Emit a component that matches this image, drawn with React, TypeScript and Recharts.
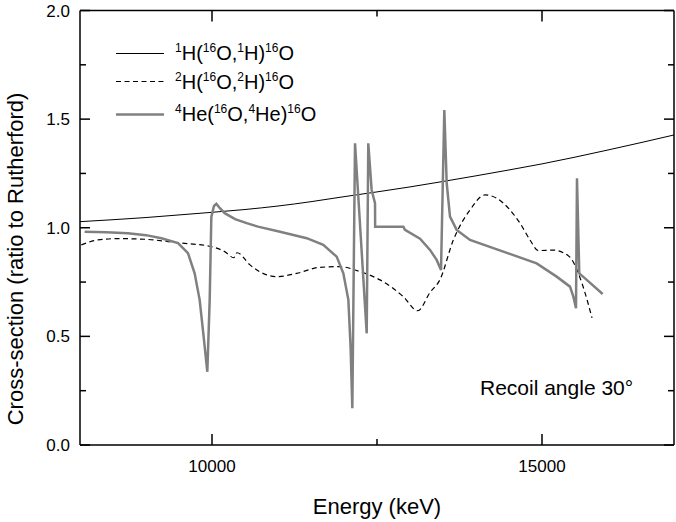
import { LineChart, Line, XAxis, YAxis, Legend, Label } from "recharts"

// 1H(16O,1H)16O  - smooth Rutherford-like curve
const hEnergy = [8000, 8500, 9000, 9500, 10000, 10500, 11000, 11500, 12000, 12500, 13000, 13500, 14000, 14500, 15000, 15500, 16000, 16500, 17000]
const hRatio = [1.028, 1.037, 1.047, 1.059, 1.071, 1.084, 1.1, 1.12, 1.143, 1.165, 1.188, 1.213, 1.239, 1.266, 1.294, 1.325, 1.358, 1.392, 1.427]

// 2H(16O,2H)16O
const dEnergy = [8020, 8273, 8576, 8980, 9485, 9990, 10192, 10330, 10380, 10576, 10828, 10980, 11283, 11636, 11939, 12242, 12545, 12899, 13117, 13303, 13455, 13657, 13909, 14136, 14313, 14515, 14667, 14818, 14944, 15172, 15323, 15455, 15606, 15758]
const dRatio = [0.921, 0.944, 0.95, 0.947, 0.931, 0.913, 0.89, 0.862, 0.885, 0.829, 0.783, 0.775, 0.79, 0.818, 0.821, 0.798, 0.76, 0.683, 0.618, 0.702, 0.762, 0.944, 1.082, 1.151, 1.136, 1.082, 1.021, 0.944, 0.895, 0.897, 0.885, 0.852, 0.744, 0.585]

// 4He(16O,4He)16O
const heEnergy = [8070, 8400, 8727, 9000, 9233, 9485, 9636, 9737, 9813, 9879, 9929, 9965, 9990, 10030, 10066, 10120, 10192, 10350, 10525, 10697, 11030, 11435, 11686, 11889, 11990, 12066, 12100, 12126, 12167, 12344, 12368, 12419, 12470, 12472, 12899, 12924, 13152, 13303, 13404, 13470, 13520, 13556, 13606, 13707, 13909, 14414, 14919, 15222, 15424, 15475, 15515, 15530, 15565, 15652, 15919]
const heRatio = [0.982, 0.979, 0.975, 0.966, 0.952, 0.929, 0.883, 0.79, 0.668, 0.483, 0.337, 0.668, 1.05, 1.1, 1.11, 1.09, 1.067, 1.04, 1.021, 1.005, 0.982, 0.952, 0.921, 0.867, 0.79, 0.668, 0.45, 0.169, 1.389, 0.514, 1.389, 1.174, 1.113, 1.005, 1.005, 0.99, 0.95, 0.898, 0.852, 0.806, 1.542, 1.205, 1.051, 0.99, 0.944, 0.89, 0.836, 0.775, 0.729, 0.683, 0.629, 1.228, 0.79, 0.767, 0.695]

const xTicks = [10000, 12500, 15000]
const yTicks = [0, 0.25, 0.5, 0.75, 1, 1.25, 1.5, 1.75, 2]

const seriesNames = [
  ["1", "H(", "16", "O,", "1", "H)", "16", "O"],
  ["2", "H(", "16", "O,", "2", "H)", "16", "O"],
  ["4", "He(", "16", "O,", "4", "He)", "16", "O"],
]

const FONT = '"Liberation Sans", Arial, sans-serif'
const GREY = "#808080"

// plot frame (px), set by the margins and axis sizes below
const W = 676
const H = 522
const TOP = 10.5
const BOTTOM = 445
const LEFT = 80
const RIGHT = 674

const toPoints = (e: number[], r: number[]) => e.map((v, i) => ({ e: v, r: r[i] }))
const hData = toPoints(hEnergy, hRatio)
const dData = toPoints(dEnergy, dRatio)
const heData = toPoints(heEnergy, heRatio)

const isMajorX = (v: number) => v % 5000 === 0
const isMajorY = (v: number) => Math.abs(v * 2 - Math.round(v * 2)) < 1e-6

// inward ticks, majors longer than minors
function BottomTick(props: any) {
  const { x, payload } = props
  const major = isMajorX(payload.value)
  return (
    <g>
      <path d={`M${x},${BOTTOM}V${BOTTOM - (major ? 11 : 6)}`} stroke="#000" strokeWidth={1.5} fill="none" />
      {major && (
        <text x={x} y={BOTTOM + 27} textAnchor="middle" fontSize={17} fontFamily={FONT} fill="#000">
          {payload.value}
        </text>
      )}
    </g>
  )
}

function TopTick(props: any) {
  const { x, payload } = props
  const major = isMajorX(payload.value)
  return <path d={`M${x},${TOP}V${TOP + (major ? 11 : 6)}`} stroke="#000" strokeWidth={1.5} fill="none" />
}

function LeftTick(props: any) {
  const { y, payload } = props
  const major = isMajorY(payload.value)
  return (
    <g>
      <path d={`M${LEFT},${y}H${LEFT + (major ? 10 : 6)}`} stroke="#000" strokeWidth={1.5} fill="none" />
      {major && (
        <text x={LEFT - 10} y={y + 6} textAnchor="end" fontSize={17} fontFamily={FONT} fill="#000">
          {payload.value.toFixed(1)}
        </text>
      )}
    </g>
  )
}

function RightTick(props: any) {
  const { y, payload } = props
  const major = isMajorY(payload.value)
  return <path d={`M${RIGHT},${y}H${RIGHT - (major ? 10 : 6)}`} stroke="#000" strokeWidth={1.5} fill="none" />
}

function LegendBox() {
  const samples = [
    { stroke: "#000", width: 1, dash: undefined, top: 0 },
    { stroke: "#000", width: 1.2, dash: "5 3.5", top: 28.5 },
    { stroke: GREY, width: 2.5, dash: undefined, top: 61 },
  ]
  return (
    <div style={{ position: "relative", fontFamily: FONT, fontSize: 20, color: "#000" }}>
      {seriesNames.map((parts, i) => (
        <div key={i} style={{ position: "absolute", left: 0, top: samples[i].top, display: "flex", alignItems: "center", height: 30 }}>
          <svg width={48} height={11} style={{ display: "block" }}>
            <line x1={0} x2={48} y1={5.5} y2={5.5} stroke={samples[i].stroke} strokeWidth={samples[i].width} strokeDasharray={samples[i].dash} />
          </svg>
          <span style={{ marginLeft: 11, whiteSpace: "nowrap", lineHeight: "20px" }}>
            {parts.map((p, j) =>
              j % 2 === 0 ? (
                <sup key={j} style={{ fontSize: 12, verticalAlign: "super", lineHeight: 0 }}>{p}</sup>
              ) : (
                <span key={j}>{p}</span>
              )
            )}
          </span>
        </div>
      ))}
    </div>
  )
}

const axisStroke = { stroke: "#000", strokeWidth: 1.5 }

export default function App() {
  return (
    <div style={{ position: "absolute", left: 0, top: 0, width: W, height: H, background: "#fff" }}>
      <LineChart width={W} height={H} margin={{ top: TOP - 1, right: W - RIGHT - 1, bottom: 0, left: 0 }}>
        <XAxis
          xAxisId="b"
          type="number"
          dataKey="e"
          domain={[8000, 17000]}
          allowDataOverflow
          ticks={xTicks}
          interval={0}
          height={H - BOTTOM}
          tickLine={false}
          tick={<BottomTick />}
          axisLine={axisStroke}
        >
          <Label
            content={() => (
              <text x={377} y={514} textAnchor="middle" fontSize={22} fontFamily={FONT} fill="#000">
                Energy (keV)
              </text>
            )}
          />
          <Label
            content={() => (
              <text x={480} y={395} fontSize={21} fontFamily={FONT} fill="#000">
                Recoil angle 30°
              </text>
            )}
          />
        </XAxis>
        <XAxis
          xAxisId="t"
          orientation="top"
          type="number"
          dataKey="e"
          domain={[8000, 17000]}
          allowDataOverflow
          ticks={xTicks}
          interval={0}
          height={1}
          tickLine={false}
          tick={<TopTick />}
          axisLine={axisStroke}
        />
        <YAxis
          yAxisId="l"
          type="number"
          domain={[0, 2]}
          allowDataOverflow
          ticks={yTicks}
          interval={0}
          width={LEFT}
          tickLine={false}
          tick={<LeftTick />}
          axisLine={axisStroke}
        >
          <Label
            content={() => (
              <text x={23} y={259} transform="rotate(-90 23 259)" textAnchor="middle" fontSize={22} fontFamily={FONT} fill="#000">
                Cross-section (ratio to Rutherford)
              </text>
            )}
          />
        </YAxis>
        <YAxis
          yAxisId="r"
          orientation="right"
          type="number"
          domain={[0, 2]}
          allowDataOverflow
          ticks={yTicks}
          interval={0}
          width={1}
          tickLine={false}
          tick={<RightTick />}
          axisLine={axisStroke}
        />
        <Legend
          layout="vertical"
          align="center"
          verticalAlign="middle"
          wrapperStyle={{ left: 116, top: 38, width: 260, height: 92 }}
          content={() => <LegendBox />}
        />
        <Line xAxisId="b" yAxisId="l" data={hData} dataKey="r" type="monotone" stroke="#000" strokeWidth={1} dot={false} isAnimationActive={false} />
        <Line xAxisId="b" yAxisId="l" data={dData} dataKey="r" type="monotone" stroke="#000" strokeWidth={1.2} strokeDasharray="5 3.5" dot={false} isAnimationActive={false} />
        <Line xAxisId="b" yAxisId="l" data={heData} dataKey="r" type="linear" stroke={GREY} strokeWidth={2.5} dot={false} isAnimationActive={false} />
      </LineChart>
    </div>
  )
}
